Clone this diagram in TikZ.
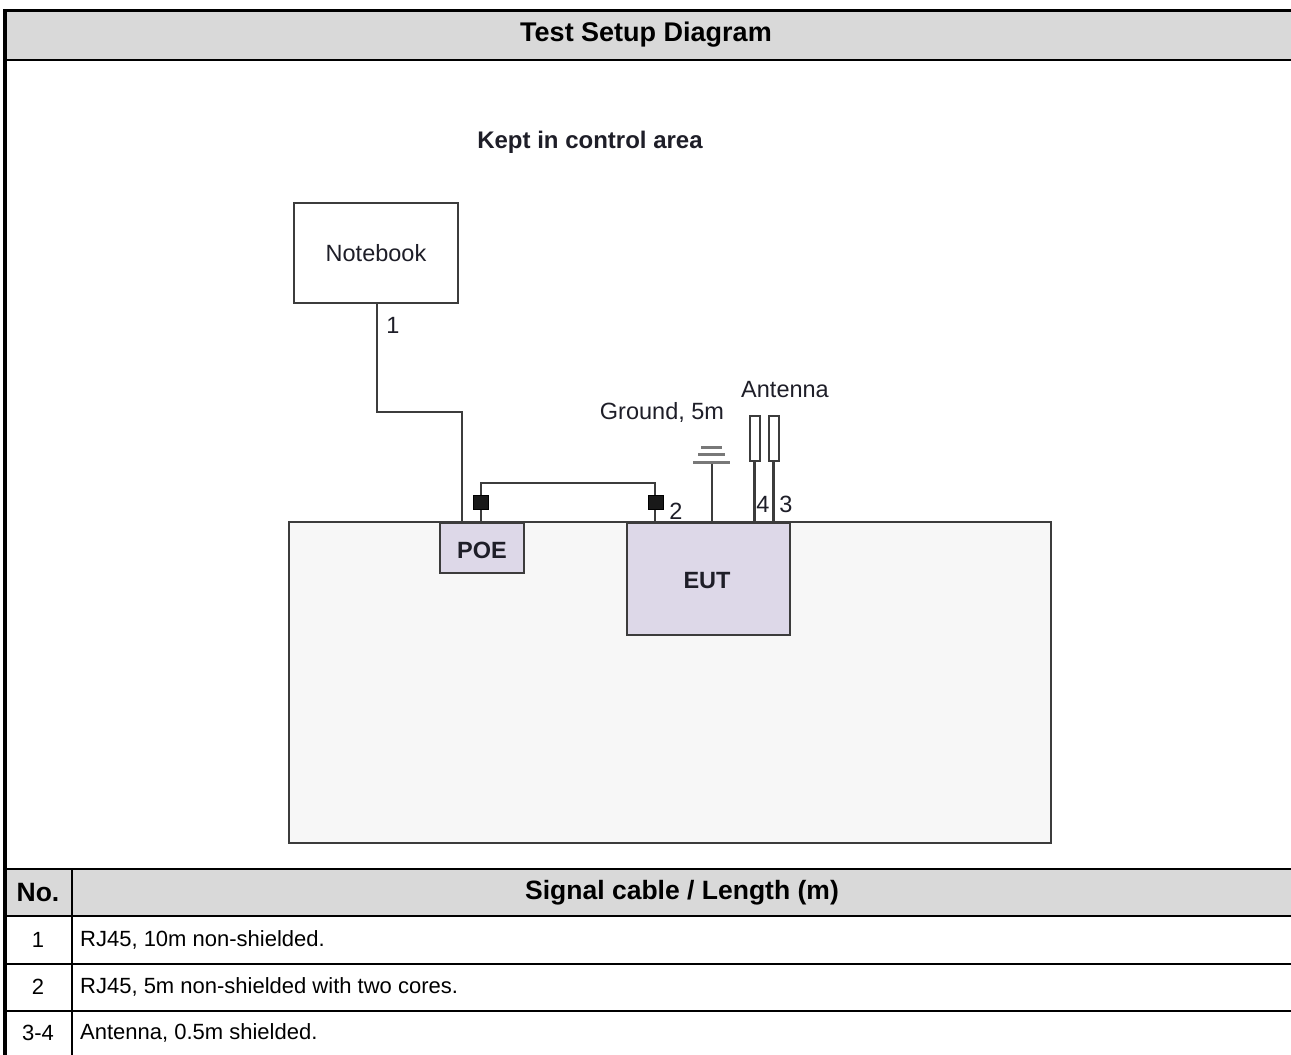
\documentclass[tikz,border=0pt]{standalone}
\usepackage{fontspec}
\setmainfont{Liberation Sans}
\definecolor{hdrgray}{RGB}{217,217,217}
\definecolor{bigfill}{RGB}{247,247,247}
\definecolor{lavender}{RGB}{221,216,232}
\definecolor{darkline}{RGB}{60,60,60}
\definecolor{gndgray}{RGB}{120,120,120}
\definecolor{labeltxt}{RGB}{30,30,40}
\begin{document}
\begin{tikzpicture}[x=1pt,y=-1pt,
  tbl/.style={line width=2pt, draw=black},
  wire/.style={line width=2.2pt, draw=darkline},
  boxstyle/.style={draw=darkline, line width=2.2pt, inner sep=0pt},
  devbox/.style={boxstyle, fill=lavender},
  plug/.style={fill=black!90, draw=black, line width=0.5pt, minimum width=15pt, minimum height=14pt, inner sep=0pt},
  antbox/.style={draw=darkline, fill=white, line width=2pt, minimum width=10pt, minimum height=45pt, inner sep=0pt},
  lbl/.style={font=\fontsize{23.5}{28}\selectfont, text=labeltxt, inner sep=0pt},
  devlbl/.style={font=\fontsize{23.5}{28}\selectfont\bfseries, text=labeltxt, inner sep=0pt},
  cell/.style={font=\fontsize{22}{26}\selectfont, inner sep=0pt},
  cellb/.style={font=\fontsize{26.5}{31}\selectfont\bfseries, inner sep=0pt},
  gndbar/.style={line width=3pt, draw=gndgray}]

\useasboundingbox (0,0) rectangle (1291,1055);
\fill[white] (0,0) rectangle (1291,1055);

% header and table header fills
\fill[hdrgray] (5,10.5) rectangle (1291,60);
\fill[hdrgray] (5,869) rectangle (1291,916);

% table lines
\draw[line width=3.5pt, line cap=rect] (1295,10.5) -- (5,10.5) -- (5,1060);
\draw[tbl] (5,60) -- (1291,60);
\draw[tbl] (5,869) -- (1291,869);
\draw[tbl] (5,916) -- (1291,916);
\draw[tbl] (5,964) -- (1291,964);
\draw[tbl] (5,1011) -- (1291,1011);
\draw[line width=1.5pt] (72,869) -- (72,1060);

% texts of the frame
\node[cellb, font=\fontsize{27}{32}\selectfont\bfseries] (title) at (646,35) {Test Setup Diagram};
\node[cellb] (hno) at (38,893) {No.};
\node[cellb] (hsig) at (682,893) {Signal cable / Length (m)};
\node[cell] (n1) at (38,940) {1};
\node[cell] (n2) at (38,987) {2};
\node[cell] (n3) at (38,1033) {3-4};
\node[cell, anchor=west] (t1) at (80,940) {RJ45, 10m non-shielded.};
\node[cell, anchor=west] (t2) at (80,987) {RJ45, 5m non-shielded with two cores.};
\node[cell, anchor=west] (t3) at (80,1033) {Antenna, 0.5m shielded.};

% diagram
\node[font=\fontsize{24}{29}\selectfont\bfseries, text=labeltxt, inner sep=0pt] (kept) at (590,142) {Kept in control area};

\node[boxstyle, fill=bigfill, minimum width=762pt, minimum height=321pt] (area) at (670,682.5) {};
\node[boxstyle, fill=white, minimum width=164pt, minimum height=100pt, lbl] (nb) at (376,253) {Notebook};
\node[devbox, minimum width=84pt, minimum height=50pt] (poe) at (482,548) {};
\node[devlbl] (poet) at (482,550) {POE};
\node[devbox, minimum width=163pt, minimum height=112pt] (eut) at (708.5,579) {};
\node[devlbl] (eutt) at (707,581) {EUT};

% cable 1
\coordinate (c1a) at (377,412);
\coordinate (c1b) at (462,412);
\draw[wire] (nb.south -| c1a) -- (c1a) -- (c1b) -- (c1b |- poe.north);
\node[lbl] (l1) at (393,325) {1};

% cable 2
\coordinate (c2a) at (481,483);
\coordinate (c2b) at (655,483);
\draw[wire] (c2a |- poe.north) -- (c2a) -- (c2b) -- (c2b |- eut.north);
\node[plug] (p1) at (481,502.5) {};
\node[plug] (p2) at (656,502.5) {};
\node[lbl] (l2) at (676,511) {2};

% ground
\coordinate (gtop) at (712,462);
\draw[wire] (gtop) -- (gtop |- eut.north);
\draw[gndbar] (701,447) -- (722,447);
\draw[gndbar] (698,454.5) -- (725,454.5);
\draw[gndbar] (693,462) -- (730,462);
\node[lbl] (gl) at (662,412) {Ground, 5m};

% antennas
\node[antbox] (a4) at (754.5,438) {};
\node[antbox] (a3) at (773.5,438) {};
\draw[wire] (a4.south) -- (a4.south |- eut.north);
\draw[wire] (a3.south) -- (a3.south |- eut.north);
\node[lbl] (al) at (785,390) {Antenna};
\node[lbl] (l4) at (763,504) {4};
\node[lbl] (l3) at (786,504) {3};

\end{tikzpicture}
\end{document}
